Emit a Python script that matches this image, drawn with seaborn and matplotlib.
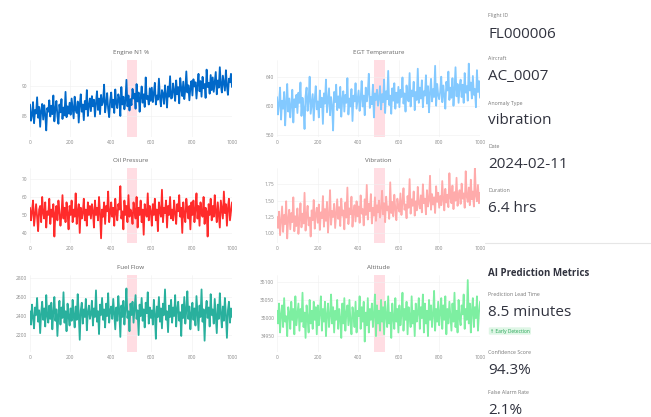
import numpy as np
import pandas as pd
import seaborn as sns
import matplotlib.pyplot as plt
from matplotlib.lines import Line2D

sns.set_style("whitegrid")
plt.rcParams['font.family'] = ['Open Sans', 'DejaVu Sans']

# sensor traces, 200 samples over the flight window
engine_n1 = [86.9, 84.2, 85.1, 87.3, 83.8, 86.0, 85.4, 88.1, 84.7, 86.5, 83.2, 85.9, 87.0, 84.4, 86.8, 85.2, 82.6, 86.3, 85.7, 87.6,
             84.9, 86.7, 85.3, 88.4, 84.1, 86.2, 87.5, 85.0, 83.7, 86.9, 85.6, 87.8, 84.5, 86.4, 85.1, 89.0, 84.8, 86.6, 85.4, 87.2,
             85.2, 87.9, 86.3, 84.6, 88.2, 86.0, 85.5, 87.4, 83.9, 86.8, 88.6, 85.7, 86.9, 84.3, 87.5, 86.1, 89.3, 85.0, 86.7, 87.9,
             85.8, 88.3, 86.6, 87.7, 84.9, 87.2, 89.1, 86.0, 87.9, 85.3, 88.5, 86.8, 87.4, 90.2, 85.6, 87.0, 88.8, 86.2, 84.8, 87.6,
             88.9, 86.4, 87.7, 85.5, 89.4, 87.1, 86.3, 88.6, 87.9, 85.0, 89.8, 86.9, 88.2, 86.1, 87.5, 91.0, 86.6, 88.4, 85.9, 87.8,
             86.8, 89.5, 87.9, 88.7, 86.2, 90.3, 87.4, 88.9, 85.7, 88.0, 89.9, 87.2, 88.6, 86.5, 91.4, 87.8, 88.3, 86.9, 89.6, 87.5,
             89.7, 87.3, 88.8, 90.5, 86.9, 88.4, 87.7, 91.2, 88.1, 86.6, 89.3, 88.7, 87.0, 90.1, 88.5, 86.4, 89.9, 88.2, 91.6, 87.9,
             88.0, 90.4, 89.2, 87.5, 90.9, 88.6, 89.8, 87.1, 91.3, 89.5, 88.3, 90.7, 87.8, 89.4, 92.4, 88.9, 90.1, 87.6, 89.7, 90.8,
             88.4, 91.1, 89.9, 90.6, 87.9, 90.2, 92.0, 89.1, 90.8, 88.2, 91.5, 89.6, 90.3, 88.0, 92.7, 89.8, 90.5, 88.7, 91.8, 89.3,
             91.4, 89.0, 90.7, 92.3, 88.6, 90.9, 89.7, 93.1, 90.2, 88.9, 91.7, 90.4, 89.2, 92.6, 90.0, 88.5, 91.2, 90.6, 92.0, 89.8]
egt_temp = [612, 588, 603, 625, 581, 607, 596, 619, 573, 605, 630, 592, 610, 584, 601, 622, 577, 609, 598, 615,
            590, 618, 604, 632, 586, 611, 597, 568, 613, 625, 593, 607, 640, 589, 602, 616, 580, 609, 627, 595,
            606, 584, 621, 598, 611, 575, 617, 603, 636, 591, 608, 624, 587, 612, 600, 566, 619, 605, 629, 594,
            613, 597, 626, 585, 609, 620, 592, 615, 604, 638, 588, 610, 599, 623, 579, 614, 606, 631, 596, 608,
            621, 593, 610, 634, 599, 614, 587, 625, 606, 618, 644, 597, 612, 602, 629, 584, 617, 608, 622, 600,
            611, 627, 595, 616, 605, 636, 590, 620, 609, 648, 601, 614, 589, 624, 607, 631, 596, 618, 604, 626,
            598, 622, 612, 639, 603, 617, 592, 628, 610, 606, 645, 599, 621, 613, 633, 594, 619, 608, 651, 604,
            625, 610, 635, 598, 620, 614, 642, 603, 627, 591, 618, 637, 606, 623, 612, 655, 600, 630, 615, 609,
            619, 640, 605, 628, 614, 596, 633, 621, 647, 608, 625, 611, 638, 600, 622, 653, 613, 630, 604, 626,
            636, 612, 629, 604, 645, 618, 627, 607, 658, 621, 632, 610, 641, 615, 623, 598, 649, 619, 634, 611]
oil_pressure = [54, 47, 52, 58, 44, 50, 56, 49, 41, 53, 55, 46, 60, 51, 48, 57, 43, 52, 50, 59,
                45, 53, 49, 56, 38, 51, 55, 47, 58, 52, 44, 50, 61, 48, 54, 46, 57, 51, 42, 55,
                50, 58, 46, 53, 49, 62, 45, 52, 56, 40, 54, 48, 51, 59, 47, 53, 44, 57, 50, 55,
                48, 56, 52, 43, 58, 50, 54, 47, 60, 51, 37, 53, 49, 57, 45, 55, 52, 63, 46, 51,
                57, 49, 54, 44, 59, 51, 47, 56, 53, 66, 48, 52, 42, 58, 50, 55, 46, 61, 49, 53,
                51, 45, 57, 52, 48, 60, 43, 54, 50, 58, 46, 53, 39, 56, 51, 49, 62, 47, 55, 52,
                44, 56, 50, 59, 47, 53, 41, 57, 52, 49, 64, 46, 54, 51, 58, 43, 55, 50, 60, 48,
                53, 47, 58, 51, 45, 56, 52, 61, 49, 54, 40, 57, 50, 46, 59, 53, 48, 55, 42, 57,
                50, 58, 46, 53, 62, 48, 55, 44, 57, 51, 49, 60, 45, 54, 52, 38, 56, 50, 59, 47,
                55, 49, 61, 52, 46, 57, 50, 43, 58, 53, 48, 63, 51, 56, 44, 54, 59, 47, 52, 57]
vibration = [1.25, 1.08, 1.33, 0.97, 1.19, 1.41, 1.02, 1.28, 1.14, 1.49, 0.92, 1.22, 1.36, 1.06, 1.31, 1.17, 1.55, 1.03, 1.26, 1.11,
             1.38, 0.99, 1.21, 1.46, 1.09, 1.30, 1.15, 1.62, 1.04, 1.27, 1.42, 1.12, 1.24, 0.95, 1.35, 1.20, 1.51, 1.07, 1.29, 1.39,
             1.16, 1.44, 1.05, 1.32, 1.23, 1.57, 1.10, 1.37, 1.19, 1.48, 1.01, 1.28, 1.66, 1.13, 1.34, 1.25, 1.45, 1.08, 1.31, 1.52,
             1.22, 1.40, 1.11, 1.53, 1.27, 1.35, 1.06, 1.47, 1.24, 1.70, 1.14, 1.38, 1.29, 1.56, 1.10, 1.33, 1.43, 1.18, 1.49, 1.26,
             1.41, 1.16, 1.58, 1.30, 1.37, 1.12, 1.52, 1.28, 1.74, 1.21, 1.45, 1.34, 1.60, 1.15, 1.39, 1.27, 1.55, 1.19, 1.43, 1.32,
             1.50, 1.24, 1.38, 1.65, 1.29, 1.46, 1.17, 1.56, 1.35, 1.41, 1.22, 1.78, 1.31, 1.48, 1.26, 1.59, 1.37, 1.20, 1.53, 1.40,
             1.33, 1.61, 1.28, 1.47, 1.69, 1.36, 1.44, 1.23, 1.57, 1.39, 1.83, 1.30, 1.52, 1.42, 1.64, 1.27, 1.49, 1.35, 1.71, 1.45,
             1.38, 1.58, 1.32, 1.75, 1.46, 1.53, 1.29, 1.66, 1.41, 1.50, 1.88, 1.36, 1.60, 1.44, 1.55, 1.31, 1.72, 1.48, 1.62, 1.39,
             1.57, 1.43, 1.80, 1.51, 1.35, 1.68, 1.47, 1.59, 1.40, 1.92, 1.54, 1.46, 1.73, 1.37, 1.63, 1.50, 1.85, 1.42, 1.58, 1.66,
             1.45, 1.76, 1.53, 1.61, 1.39, 1.95, 1.56, 1.48, 1.70, 1.43, 1.82, 1.52, 1.64, 1.41, 2.02, 1.57, 1.49, 1.74, 1.46, 1.62]
fuel_flow = [2450, 2310, 2520, 2380, 2270, 2490, 2410, 2590, 2340, 2460, 2220, 2430, 2550, 2360, 2480, 2290, 2620, 2400, 2330, 2510,
             2370, 2540, 2260, 2440, 2600, 2350, 2470, 2190, 2420, 2560, 2310, 2490, 2380, 2650, 2330, 2450, 2240, 2530, 2400, 2300,
             2480, 2350, 2570, 2410, 2280, 2500, 2360, 2630, 2430, 2150, 2460, 2540, 2320, 2470, 2390, 2580, 2250, 2440, 2510, 2370,
             2420, 2560, 2300, 2480, 2390, 2670, 2340, 2450, 2210, 2520, 2410, 2590, 2360, 2470, 2280, 2530, 2400, 2640, 2330, 2460,
             2500, 2370, 2580, 2420, 2260, 2490, 2350, 2610, 2440, 2180, 2510, 2390, 2560, 2310, 2470, 2690, 2380, 2450, 2240, 2530,
             2410, 2550, 2330, 2480, 2620, 2370, 2460, 2200, 2520, 2400, 2590, 2350, 2470, 2280, 2540, 2430, 2650, 2320, 2490, 2380,
             2460, 2310, 2570, 2420, 2160, 2500, 2390, 2600, 2340, 2480, 2270, 2530, 2410, 2680, 2360, 2450, 2230, 2510, 2390, 2570,
             2330, 2490, 2400, 2620, 2290, 2470, 2550, 2350, 2440, 2190, 2520, 2380, 2600, 2320, 2460, 2660, 2370, 2500, 2260, 2430,
             2540, 2360, 2480, 2300, 2610, 2420, 2250, 2510, 2390, 2680, 2340, 2470, 2140, 2450, 2560, 2380, 2490, 2290, 2630, 2410,
             2470, 2320, 2580, 2400, 2220, 2520, 2370, 2640, 2430, 2280, 2500, 2350, 2590, 2410, 2170, 2460, 2550, 2330, 2480, 2390]
altitude = [35020, 34985, 35040, 34960, 35010, 35035, 34975, 35055, 34990, 35005, 34950, 35030, 35015, 34970, 35045, 34995, 35025, 34955, 35060, 34980,
            35010, 35040, 34965, 35025, 34990, 35070, 34975, 35015, 34945, 35035, 35000, 34960, 35050, 34985, 35020, 34970, 35045, 34995, 35030, 34955,
            35035, 34980, 35015, 35060, 34965, 35025, 34990, 35045, 34950, 35010, 35040, 34975, 35005, 35065, 34985, 35030, 34960, 35020, 34995, 35050,
            34970, 35025, 35000, 34945, 35040, 34985, 35055, 34965, 35015, 35035, 34980, 35050, 34990, 34955, 35030, 35010, 34975, 35045, 34960, 35020,
            35005, 35060, 34970, 35030, 34990, 35045, 34935, 35015, 34980, 35055, 34960, 35025, 34995, 35040, 34975, 35010, 35065, 34950, 35035, 34985,
            35020, 34965, 35050, 34990, 35030, 34955, 35045, 35005, 34975, 35060, 34985, 35015, 34945, 35040, 35000, 34970, 35055, 34990, 35025, 34960,
            35035, 34980, 35010, 35070, 34965, 35025, 34995, 35045, 34955, 35030, 35005, 34975, 35060, 34985, 35020, 34950, 35040, 34990, 35015, 35055,
            34970, 35030, 35000, 35065, 34960, 35040, 34985, 35020, 34950, 35050, 34995, 35035, 34975, 35010, 35075, 34965, 35025, 34990, 35045, 34980,
            35015, 35055, 34970, 35035, 34995, 35060, 34955, 35025, 34985, 35045, 35005, 34965, 35040, 34990, 35070, 34975, 35020, 34960, 35050, 35000,
            34980, 35035, 35010, 35065, 34970, 35025, 34995, 35105, 34985, 35040, 34960, 35020, 35055, 34975, 35030, 35000, 35060, 34965, 35015, 35045]

time_s = np.linspace(0, 1000, len(engine_n1))
anomaly_window = (480, 530)
x_ticks = [0, 200, 400, 600, 800, 1000]

panels = [
    ("Engine N1 %", engine_n1, "#0068c9", [85, 90], (81.5, 94.3)),
    ("EGT Temperature", egt_temp, "#83c9ff", [560, 600, 640], (557, 663)),
    ("Oil Pressure", oil_pressure, "#ff2b2b", [40, 50, 60, 70], (34.4, 76.1)),
    ("Vibration", vibration, "#ffabab", [1.0, 1.25, 1.5, 1.75], (0.85, 2.0)),
    ("Fuel Flow", fuel_flow, "#29b09d", [2200, 2400, 2600, 2800], (2021, 2832)),
    ("Altitude", altitude, "#7defa1", [34950, 35000, 35050, 35100], (34906, 35119)),
]

W, H = 651, 417
fig = plt.figure(figsize=(W / 100, H / 100), dpi=100)

# axes boxes in pixels: (top, bottom) per row, (left, right) per column
rows = [(60, 137), (168, 243), (275, 352)]
cols = [(30, 232), (277, 480)]

for i, (title, vals, color, yt, yl) in enumerate(panels):
    top, bot = rows[i // 2]
    left, right = cols[i % 2]
    ax = fig.add_axes([left / W, 1 - bot / H, (right - left) / W, (bot - top) / H])
    ax.axvspan(*anomaly_window, color="#ffc2cc", alpha=0.55, lw=0, zorder=0)
    df = pd.DataFrame({"t": time_s, "v": vals})
    sns.lineplot(data=df, x="t", y="v", ax=ax, color=color, lw=1.3)
    ax.set_xlim(0, 1000)
    ax.set_ylim(*yl)
    ax.set_yticks(yt)
    ax.set_xticks(x_ticks)
    ax.set_xlabel("")
    ax.set_ylabel("")
    ax.set_title(title, fontsize=4.5, color="#666666", pad=4)
    ax.tick_params(labelsize=3.5, colors="#888888", length=0, pad=2)
    ax.grid(color="#f0f0f0", lw=0.4)
    for s in ax.spines.values():
        s.set_visible(False)

# side panel
x0 = 488 / W
def label(y, txt):
    fig.text(x0, 1 - y / H, txt, fontsize=3.8, color="#777777", va="center")

def value(y, txt):
    fig.text(x0, 1 - y / H, txt, fontsize=11, color="#31333f", va="center")

label(15, "Flight ID")
value(35, "FL000006")
label(59, "Aircraft")
value(77, "AC_0007")
label(103, "Anomaly Type")
value(121, "vibration")
label(147, "Date")
value(165, "2024-02-11")
label(190, "Duration")
value(208, "6.4 hrs")

fig.add_artist(Line2D([485 / W, 1.0], [1 - 243 / H, 1 - 243 / H], color="#e6e6e6", lw=0.8))

fig.text(x0, 1 - 273 / H, "AI Prediction Metrics", fontsize=7, fontweight="bold",
         color="#31333f", va="center")
label(295, "Prediction Lead Time")
value(313, "8.5 minutes")
fig.text(x0 + 2 / W, 1 - 331 / H, "↑ Early Detection", fontsize=3.5, color="#21a452", va="center",
         bbox=dict(boxstyle="round,pad=0.25", fc="#dff6e6", ec="none"))
label(352, "Confidence Score")
value(370, "94.3%")
label(393, "False Alarm Rate")
value(411, "2.1%")

fig.savefig("out.png", dpi=100)
